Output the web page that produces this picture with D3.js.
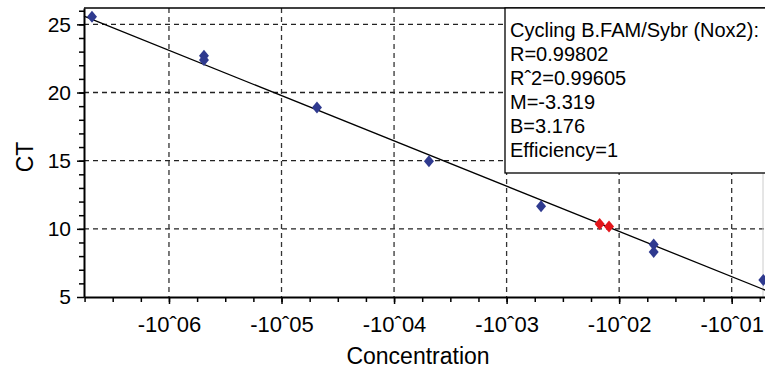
<!DOCTYPE html>
<html>
<head>
<meta charset="utf-8">
<script src="https://cdn.jsdelivr.net/npm/d3@7"></script>
<style>
  body { margin: 0; background: #fff; }
  svg { display: block; font-family: "Liberation Sans", Arial, sans-serif; }
</style>
</head>
<body>
<div id="chart"></div>
<script>
// log10 concentration and CT for the standards (blue) and the unknowns (red)
let stdConc = [-6.684, -5.689, -5.689, -4.685, -3.690, -2.694, -1.693, -1.693, -0.719];
let stdCT   = [25.56, 22.70, 22.39, 18.90, 14.95, 11.66, 8.86, 8.31, 6.24];
let unkConc = [-2.173, -2.090];
let unkCT   = [10.36, 10.17];

// ends of the fitted standard curve
let fitConc = [-6.755, -0.704];
let fitCT   = [25.60, 5.51];

let xTicks = [-6, -5, -4, -3, -2, -1];
let xTickLabels = ["-10ˆ06", "-10ˆ05", "-10ˆ04", "-10ˆ03", "-10ˆ02", "-10ˆ01"];
let yTicks = [5, 10, 15, 20, 25];

let legendLines = ["Cycling B.FAM/Sybr (Nox2):", "R=0.99802", "Rˆ2=0.99605",
                   "M=-3.319", "B=3.176", "Efficiency=1"];

let width = 765;
let height = 369;
let margin = ({top: 8, right: 0, bottom: 72, left: 84});

let svg = d3.select("#chart")
    .append("svg")
    .attr("width", width)
    .attr("height", height);

let xScale = d3.scaleLinear()
    .domain([-6.755, -0.704])
    .range([margin.left, width - margin.right]);

let yScale = d3.scaleLinear()
    .domain([5, 26.2])
    .range([height - margin.bottom, margin.top]);

let x0 = margin.left, x1 = width - margin.right;
let y0 = height - margin.bottom, y1 = margin.top;

// dashed grid
svg.append("g")
    .selectAll("line")
    .data(yTicks.filter(d => d > 5))
    .enter()
    .append("line")
    .attr("x1", x0).attr("x2", x1)
    .attr("y1", d => yScale(d)).attr("y2", d => yScale(d))
    .attr("stroke", "#222")
    .attr("stroke-width", 1.3)
    .attr("stroke-dasharray", "5,4");

svg.append("g")
    .selectAll("line")
    .data(xTicks)
    .enter()
    .append("line")
    .attr("x1", d => xScale(d)).attr("x2", d => xScale(d))
    .attr("y1", y1).attr("y2", y0)
    .attr("stroke", "#333")
    .attr("stroke-width", 1.3)
    .attr("stroke-dasharray", "5,4");

// frame top and right
svg.append("line")
    .attr("x1", x0).attr("x2", x1).attr("y1", y1).attr("y2", y1)
    .attr("stroke", "#000").attr("stroke-width", 1.5);
svg.append("line")
    .attr("x1", 763).attr("x2", 763).attr("y1", y1).attr("y2", y0)
    .attr("stroke", "#ccc").attr("stroke-width", 1);

// fitted line
let fit = fitConc.map((c, i) => [c, fitCT[i]]);
svg.append("path")
    .datum(fit)
    .attr("d", d3.line().x(d => xScale(d[0])).y(d => yScale(d[1])))
    .attr("fill", "none")
    .attr("stroke", "#000")
    .attr("stroke-width", 1.3);

// diamonds
let diamond = "M0,-6L5,0L0,6L-5,0Z";

svg.append("g")
    .selectAll("path")
    .data(stdConc.map((c, i) => [c, stdCT[i]]))
    .enter()
    .append("path")
    .attr("d", diamond)
    .attr("transform", d => "translate(" + xScale(d[0]) + "," + yScale(d[1]) + ")")
    .attr("fill", "#2f3a8f");

svg.append("g")
    .selectAll("path")
    .data(unkConc.map((c, i) => [c, unkCT[i]]))
    .enter()
    .append("path")
    .attr("d", diamond)
    .attr("transform", d => "translate(" + xScale(d[0]) + "," + yScale(d[1]) + ")")
    .attr("fill", "#e3161b");

// axes
let xMinor = d3.range(-6.75, -0.7, 0.25);
let yMinor = d3.range(6, 27, 1);

svg.append("g")
    .attr("transform", "translate(0," + y0 + ")")
    .call(d3.axisBottom(xScale).tickValues(xMinor).tickFormat("").tickSize(5).tickSizeOuter(0))
    .call(g => g.select(".domain").remove())
    .selectAll("line").attr("stroke-width", 1.5);

let xAxis = svg.append("g")
    .attr("transform", "translate(0," + y0 + ")")
    .call(d3.axisBottom(xScale)
        .tickValues(xTicks)
        .tickFormat((d, i) => xTickLabels[i])
        .tickSize(7)
        .tickPadding(12)
        .tickSizeOuter(0));
xAxis.select(".domain").attr("stroke-width", 2);
xAxis.selectAll("line").attr("stroke-width", 1.5);
xAxis.selectAll("text")
    .style("font-size", "22px")
    .style("font-family", "Liberation Sans, Arial, sans-serif")
    .attr("fill", "#000");

svg.append("g")
    .attr("transform", "translate(" + x0 + ",0)")
    .call(d3.axisLeft(yScale).tickValues(yMinor).tickFormat("").tickSize(5).tickSizeOuter(0))
    .call(g => g.select(".domain").remove())
    .selectAll("line").attr("stroke-width", 1.5);

let yAxis = svg.append("g")
    .attr("transform", "translate(" + x0 + ",0)")
    .call(d3.axisLeft(yScale)
        .tickValues(yTicks)
        .tickSize(7)
        .tickPadding(6)
        .tickSizeOuter(0));
yAxis.select(".domain").attr("stroke-width", 2);
yAxis.selectAll("line").attr("stroke-width", 1.5);
yAxis.selectAll("text")
    .style("font-size", "21px")
    .style("font-family", "Liberation Sans, Arial, sans-serif")
    .attr("fill", "#000");

// axis titles
svg.append("text")
    .attr("x", 418)
    .attr("y", 364)
    .attr("text-anchor", "middle")
    .style("font-size", "23px")
    .text("Concentration");

svg.append("text")
    .attr("transform", "translate(33,157) rotate(-90)")
    .attr("text-anchor", "middle")
    .style("font-size", "23px")
    .text("CT");

// legend box
svg.append("rect")
    .attr("x", 505)
    .attr("y", y1)
    .attr("width", 280)
    .attr("height", 165)
    .attr("fill", "#fff")
    .attr("stroke", "#000")
    .attr("stroke-width", 1.3);

svg.append("g")
    .selectAll("text")
    .data(legendLines)
    .enter()
    .append("text")
    .attr("x", 510)
    .attr("y", (d, i) => 37 + i * 24)
    .style("font-size", "20px")
    .text(d => d);
</script>
</body>
</html>
